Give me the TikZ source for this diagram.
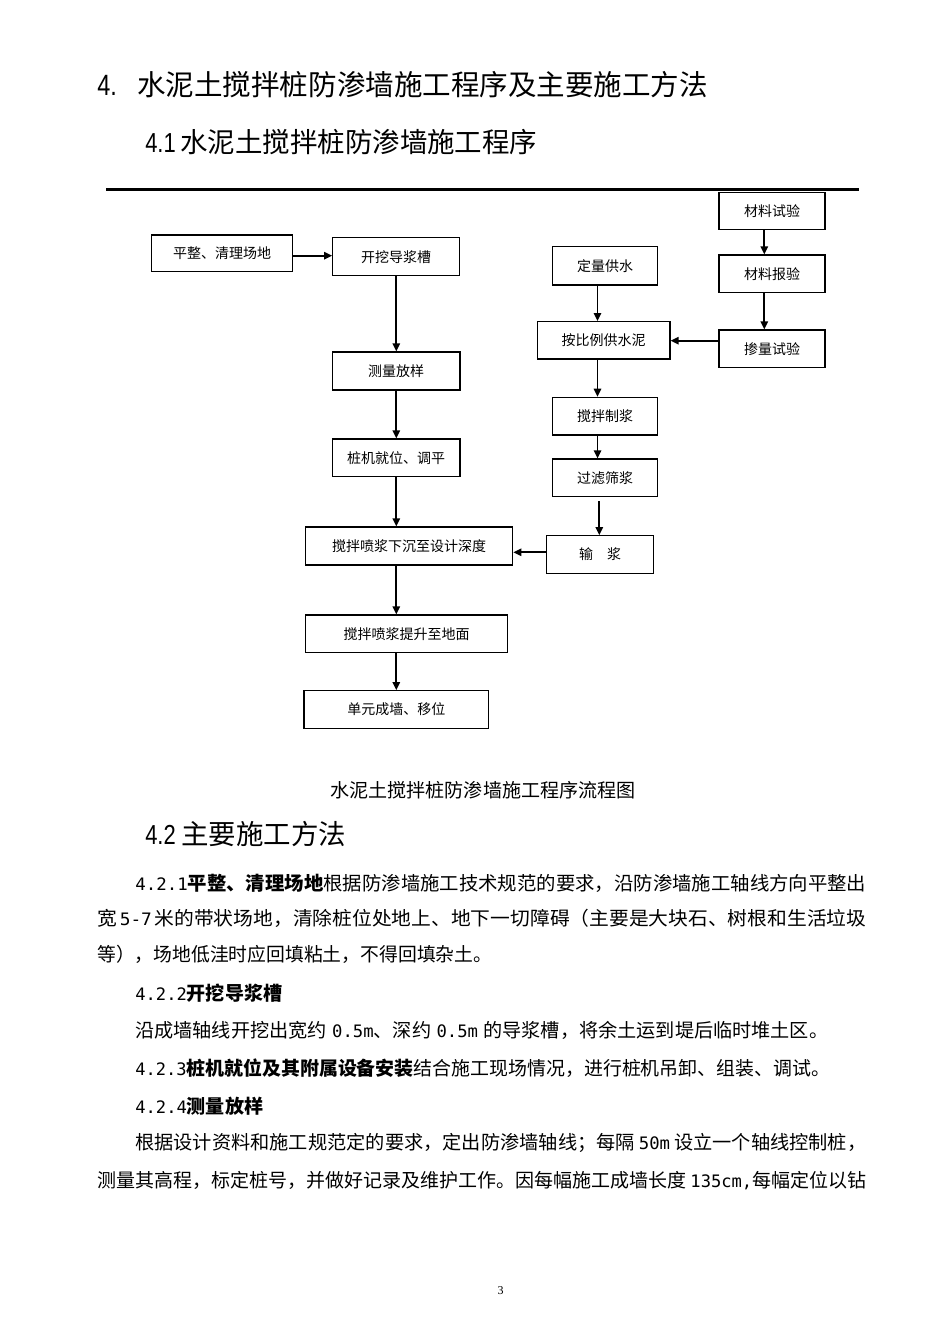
\documentclass[tikz,border=0pt]{standalone}
\usepackage{fontspec}
\usepackage{graphicx}
\usetikzlibrary{arrows.meta,calc}
\setmainfont{Liberation Serif}
\newfontfamily\cjk{Noto Sans CJK SC}
\newfontfamily\hnum{Liberation Sans}[FakeStretch=0.8]
\newfontfamily\mono{DejaVu Sans Mono}[Scale=0.9]
\newdimen\pxu \pxu=0.75pt
\newcommand{\fitline}[2]{\resizebox{#1\pxu}{\height}{#2}}
\tikzset{
  flowbox/.style 2 args={draw, line width=0.9pt, minimum width=#1*0.75pt, minimum height=#2*0.75pt, inner sep=0pt, font=\cjk\fontsize{10.5}{12}\selectfont},
  arr/.style={line width=1.3pt, -{Triangle[length=6pt,width=5.5pt]}},
  txt/.style={inner sep=0pt, anchor=base west},
  body/.style={txt, font=\cjk\fontsize{14.3}{18}\selectfont},
}
\begin{document}
\begin{tikzpicture}[x=0.75pt,y=-0.75pt]
\useasboundingbox (0,0) rectangle (950,1344);
\fill[white] (0,0) rectangle (950,1344);

% headings
\node[txt, font=\hnum\fontsize{22}{26}\selectfont] (h1n) at (97,96) {4.};
\node[txt, font=\cjk\fontsize{21.4}{26}\selectfont] (h1) at (137,96) {水泥土搅拌桩防渗墙施工程序及主要施工方法};
\node[txt, font=\hnum\fontsize{20.6}{24}\selectfont] (h2n) at (145,152.5) {4.1};
\node[txt, font=\cjk\fontsize{20.6}{24}\selectfont] (h2) at (180,152.5) {水泥土搅拌桩防渗墙施工程序};
\draw[line width=1.9pt] (106,189.5) -- (859,189.5);

% flow boxes
\node[flowbox={141}{36.7}] (b1) at (222.2,253.35) {平整、清理场地};
\node[flowbox={126.6}{38}] (b2) at (396,256.7) {开挖导浆槽};
\node[flowbox={127.5}{38}] (b3) at (396.2,371) {测量放样};
\node[flowbox={127.7}{37.7}] (b4) at (396.2,457.85) {桩机就位、调平};
\node[flowbox={207}{38}] (b5) at (409.2,546) {搅拌喷浆下沉至设计深度};
\node[flowbox={202}{37.7}] (b6) at (406.7,633.85) {搅拌喷浆提升至地面};
\node[flowbox={184.7}{37.6}] (b7) at (396.35,709.5) {单元成墙、移位};
\node[flowbox={105}{38.3}] (c1) at (605.2,265.85) {定量供水};
\node[flowbox={132.7}{37.3}] (c2) at (603.65,340.35) {按比例供水泥};
\node[flowbox={105.4}{37.7}] (c3) at (605,416.15) {搅拌制浆};
\node[flowbox={105.4}{37.7}] (c4) at (605,477.85) {过滤筛浆};
\node[flowbox={106.6}{37.6}] (c5) at (600,554.5) {输　浆};
\node[flowbox={106}{37}] (d1) at (772,210.8) {材料试验};
\node[flowbox={106}{37.7}] (d2) at (772,273.85) {材料报验};
\node[flowbox={106}{37.7}] (d3) at (772,348.85) {掺量试验};

% helper coordinates
\coordinate (xl) at (396.3,0);
\coordinate (xm) at (597.5,0);
\coordinate (xn) at (599.3,0);
\coordinate (xr) at (764.3,0);
\coordinate (ya) at (0,255.7);
\coordinate (yb) at (0,340.7);
\coordinate (yc) at (0,552.3);

% connectors
\draw[arr] (b1.east |- ya) -- (b2.west |- ya);
\draw[arr] (b2.south -| xl) -- (b3.north -| xl);
\draw[arr] (b3.south -| xl) -- (b4.north -| xl);
\draw[arr] (b4.south -| xl) -- (b5.north -| xl);
\draw[arr] (b5.south -| xl) -- (b6.north -| xl);
\draw[arr] (b6.south -| xl) -- (b7.north -| xl);
\draw[arr] (c1.south -| xm) -- (c2.north -| xm);
\draw[arr] (c2.south -| xm) -- (c3.north -| xm);
\draw[arr] (c3.south -| xm) -- (c4.north -| xm);
\draw[arr] ($(c4.south -| xn)+(0,4)$) -- (c5.north -| xn);
\draw[arr] (d1.south -| xr) -- (d2.north -| xr);
\draw[arr] (d2.south -| xr) -- (d3.north -| xr);
\draw[arr] (d3.west |- yb) -- (c2.east |- yb);
\draw[arr] (c5.west |- yc) -- (b5.east |- yc);

% caption and section 4.2
\node[inner sep=0pt, anchor=base, font=\cjk\fontsize{14.3}{17}\selectfont] (cap) at (483,797.2) {水泥土搅拌桩防渗墙施工程序流程图};
\node[txt, font=\hnum\fontsize{20.6}{24}\selectfont] (h3n) at (145,844.5) {4.2};
\node[txt, font=\cjk\fontsize{20.6}{24}\selectfont] (h3) at (181,844.5) {主要施工方法};

% body lines
\node[body] (p1) at (135,890.5) {\fitline{731}{{\mono 4.2.1}{\bfseries 平整、清理场地}根据防渗墙施工技术规范的要求，沿防渗墙施工轴线方向平整出}};
\node[body] (p2) at (97,925.5) {\fitline{769}{宽\hspace{2pt}{\mono 5-7}\hspace{2pt}米的带状场地，清除桩位处地上、地下一切障碍（主要是大块石、树根和生活垃圾}};
\node[body] (p3) at (97,961.5) {\fitline{395}{等），场地低洼时应回填粘土，不得回填杂土。}};
\node[body] (p4) at (135,1000.5) {{\mono 4.2.2}{\bfseries 开挖导浆槽}};
\node[body] (p5) at (135,1037.5) {\fitline{693}{沿成墙轴线开挖出宽约\hspace{4pt}{\mono 0.5m}、深约\hspace{4pt}{\mono 0.5m}\hspace{4pt}的导浆槽，将余土运到堤后临时堆土区。}};
\node[body] (p6) at (135,1075.5) {\fitline{695}{{\mono 4.2.3}{\bfseries 桩机就位及其附属设备安装}结合施工现场情况，进行桩机吊卸、组装、调试。}};
\node[body] (p7) at (135,1113.5) {{\mono 4.2.4}{\bfseries 测量放样}};
\node[body] (p8) at (135,1149.5) {\fitline{731}{根据设计资料和施工规范定的要求，定出防渗墙轴线；每隔\hspace{3pt}{\mono 50m}\hspace{3pt}设立一个轴线控制桩，}};
\node[body] (p9) at (97,1187.5) {\fitline{769}{测量其高程，标定桩号，并做好记录及维护工作。因每幅施工成墙长度\hspace{3pt}{\mono 135cm,}每幅定位以钻}};

\node[inner sep=0pt, font=\fontsize{9}{10}\selectfont] (pg) at (500.7,1290.7) {3};
\end{tikzpicture}
\end{document}
